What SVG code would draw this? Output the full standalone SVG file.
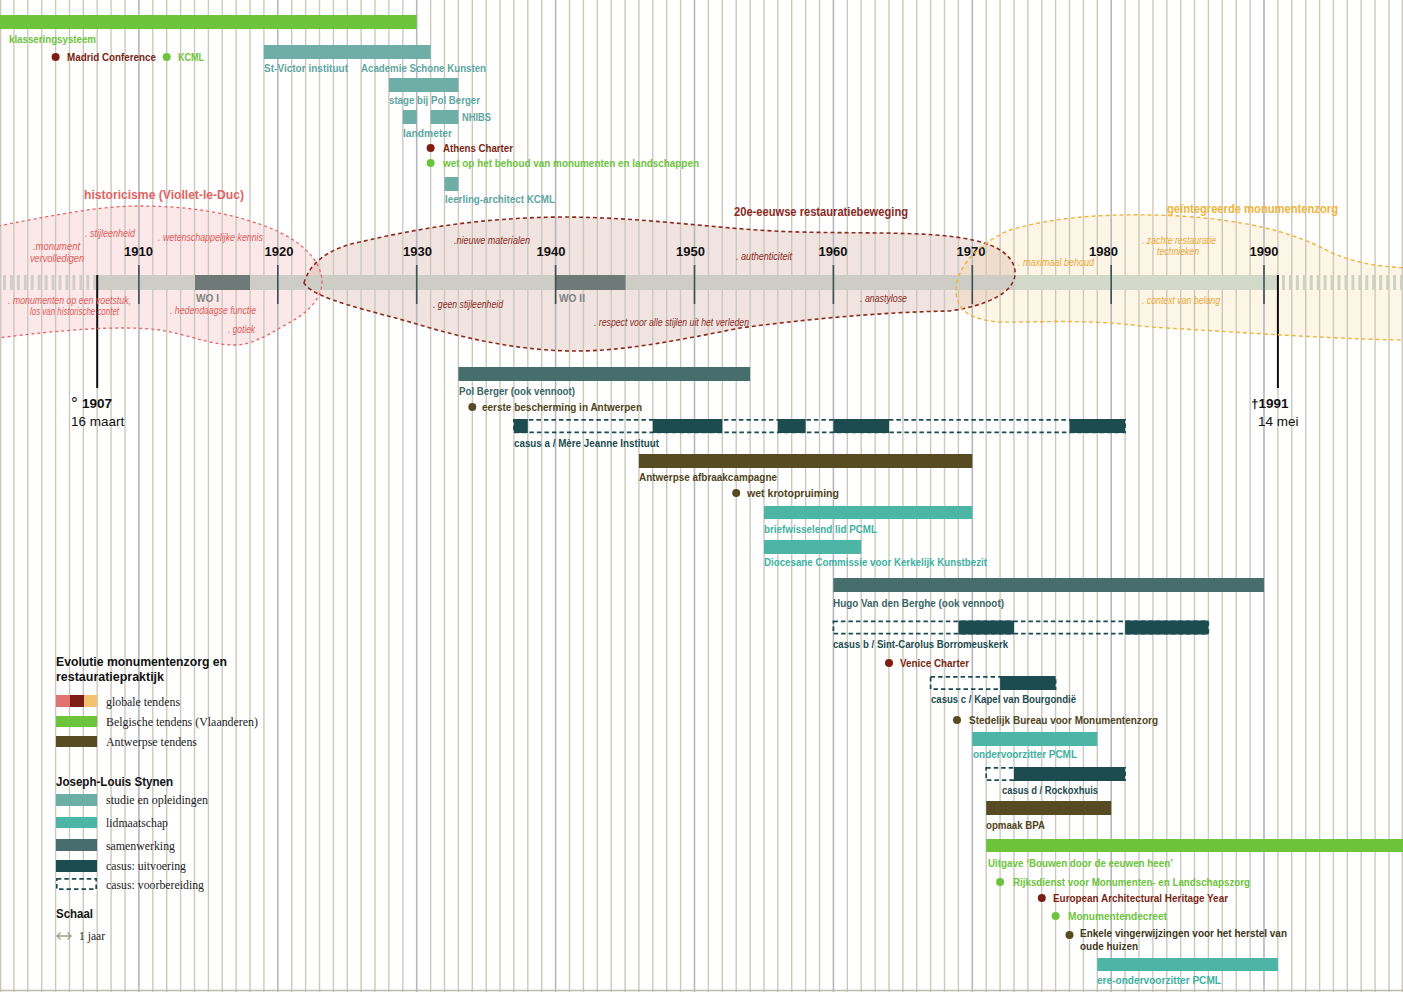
<svg xmlns="http://www.w3.org/2000/svg" width="1403" height="992" viewBox="0 0 1403 992">
<defs>
<style>
.g{stroke:#cbc9bd;stroke-width:1.4;fill:none}
.gd{stroke:#b6b7bd;stroke-width:1.6;fill:none}
.lb{font-family:"Liberation Sans",Arial,sans-serif;font-weight:bold;font-size:11px}
.an{font-family:"Liberation Sans",Arial,sans-serif;font-style:italic;font-size:10px}
.yr{font-family:"Liberation Sans",Arial,sans-serif;font-weight:bold;font-size:13px;text-anchor:middle;fill:#111}
.tt{font-family:"Liberation Sans",Arial,sans-serif;font-weight:bold;font-size:12.5px}
.lg{font-family:"Liberation Serif","Times New Roman",serif;font-size:12.5px;fill:#222}
.lh{font-family:"Liberation Sans",Arial,sans-serif;font-weight:bold;font-size:12.5px;fill:#111}
.green{fill:#6cc43c}
.red{fill:#7c1f12}
.olive{fill:#574b23}
.olivet{fill:#4f4420}
.stud{fill:#6fada7}
.studt{fill:#5ea69f}
.lid{fill:#4db5a6}
.lidt{fill:#3db2a2}
.sam{fill:#466e6d}
.samt{fill:#3b6667}
.cas{fill:#1d4c50}
.dash{fill:none;stroke:#1d4c50;stroke-width:1.7;stroke-dasharray:4.5 3}
.pk{fill:#e05a5a}
.dr{fill:#8b2a1e}
.or{fill:#eaa83a}
.tick{stroke:#3d5056;stroke-width:1.6}
</style>
</defs>
<rect width="1403" height="992" fill="#ffffff"/>

<g id="blob-fills">
<path d="M-2,226 C60,214 100,206 140,206 C185,206 230,212 270,228 C300,240 322,260 322,282 C322,300 305,315 285,325 C265,337 250,345 235,345 C210,345 190,335 160,330 C120,325 60,330 -2,338 Z" fill="#f07878" fill-opacity="0.17"/>
<path d="M304,283 C310,262 330,248 360,242 C420,228 480,218 560,217 C650,217 720,230 800,232 C880,234 950,230 990,245 C1010,253 1016,265 1015,275 C1013,292 990,305 950,311 C880,312 800,320 740,328 C680,340 620,352 570,351 C520,350 470,340 420,325 C370,310 315,300 304,283 Z" fill="#a0402e" fill-opacity="0.15"/>
<path d="M956,292 C955,270 975,245 1010,230 C1060,215 1120,213 1180,216 C1240,220 1290,230 1330,252 C1360,265 1385,267 1410,268 L1410,340 C1350,340 1250,333 1150,327 C1080,318 1040,323 1000,322 C970,320 957,310 956,292 Z" fill="#f5c060" fill-opacity="0.16"/>
</g>

<g id="grid">
<path class="g" d="M0.7,0V992M13.9,0V992M27.8,0V992M41.7,0V992M55.6,0V992M69.5,0V992M83.3,0V992M97.2,0V992M111.1,0V992M125,0V992M152.8,0V992M166.7,0V992M180.6,0V992M194.5,0V992M208.4,0V992M222.2,0V992M236.1,0V992M250,0V992M263.9,0V992M291.7,0V992M305.6,0V992M319.5,0V992M333.4,0V992M347.3,0V992M361.1,0V992M375,0V992M388.9,0V992M402.8,0V992M430.6,0V992M444.5,0V992M458.4,0V992M472.3,0V992M486.2,0V992M500,0V992M513.9,0V992M527.8,0V992M541.7,0V992M569.5,0V992M583.4,0V992M597.3,0V992M611.2,0V992M625.1,0V992M638.9,0V992M652.8,0V992M666.7,0V992M680.6,0V992M708.4,0V992M722.3,0V992M736.2,0V992M750.1,0V992M764,0V992M777.8,0V992M791.7,0V992M805.6,0V992M819.5,0V992M847.3,0V992M861.2,0V992M875.1,0V992M889,0V992M902.9,0V992M916.7,0V992M930.6,0V992M944.5,0V992M958.4,0V992M986.2,0V992M1000.1,0V992M1014,0V992M1027.9,0V992M1041.8,0V992M1055.6,0V992M1069.5,0V992M1083.4,0V992M1097.3,0V992M1125.1,0V992M1139,0V992M1152.9,0V992M1166.8,0V992M1180.7,0V992M1194.5,0V992M1208.4,0V992M1222.3,0V992M1236.2,0V992M1250.1,0V992M1277.9,0V992M1291.8,0V992M1305.7,0V992M1319.6,0V992M1333.4,0V992M1347.3,0V992M1361.2,0V992M1375.1,0V992M1389,0V992M1402.3,0V992"/>
<path class="gd" d="M138.9,0V992M277.8,0V992M416.7,0V992M555.6,0V992M694.5,0V992M833.4,0V992M972.3,0V992M1111.2,0V992M1264,0V992"/>
<path d="M0,990.5H1403" stroke="#bdbbae" stroke-width="1.6"/>
</g>

<g id="timeline">
<line x1="3" y1="282.5" x2="97" y2="282.5" stroke="#cfcfc8" stroke-width="15" stroke-dasharray="3 3.94"/>
<rect x="97" y="275" width="918" height="15" fill="#cdcdc6"/>
<rect x="1015" y="275" width="263" height="15" fill="#d3d9c9"/>
<line x1="1282" y1="282.5" x2="1403" y2="282.5" stroke="#cdd3c3" stroke-width="15" stroke-dasharray="3 3.94"/>
<rect x="195" y="275" width="55" height="15" fill="#6f7977"/>
<rect x="555.6" y="275" width="70" height="15" fill="#6f7977"/>
<path class="tick" d="M138.9,265V304M277.8,265V304M416.7,265V304M555.6,265V304M694.5,265V304M833.4,265V304M972.3,265V304M1111.2,265V304M1264,265V304"/>
<text class="lb" x="196" y="302" fill="#7b8482" font-size="10px" textLength="23" lengthAdjust="spacingAndGlyphs">WO I</text>
<text class="lb" x="559" y="302" fill="#7b8482" font-size="10px" textLength="26" lengthAdjust="spacingAndGlyphs">WO II</text>
<text class="yr" x="138.5" y="256">1910</text>
<text class="yr" x="279" y="256">1920</text>
<text class="yr" x="417.5" y="256">1930</text>
<text class="yr" x="551" y="256">1940</text>
<text class="yr" x="690.5" y="256">1950</text>
<text class="yr" x="833" y="256">1960</text>
<text class="yr" x="971" y="256">1970</text>
<text class="yr" x="1103.5" y="256">1980</text>
<text class="yr" x="1264" y="256">1990</text>
<line x1="97.2" y1="275" x2="97.2" y2="388" stroke="#111" stroke-width="2"/>
<line x1="1277.9" y1="275" x2="1277.9" y2="388" stroke="#111" stroke-width="2"/>
<text x="71" y="409" font-family="Liberation Sans,Arial,sans-serif" font-size="17" fill="#111">°</text>
<text x="82" y="408" font-family="Liberation Sans,Arial,sans-serif" font-size="13.5" font-weight="bold" fill="#111">1907</text>
<text x="71" y="426" font-family="Liberation Sans,Arial,sans-serif" font-size="13.5" fill="#111">16 maart</text>
<text x="1251" y="408" font-family="Liberation Sans,Arial,sans-serif" font-size="13.5" font-weight="bold" fill="#111">†1991</text>
<text x="1258" y="426" font-family="Liberation Sans,Arial,sans-serif" font-size="13.5" fill="#111">14 mei</text>
</g>

<g id="blob-strokes" fill="none">
<path d="M-2,226 C60,214 100,206 140,206 C185,206 230,212 270,228 C300,240 322,260 322,282 C322,300 305,315 285,325 C265,337 250,345 235,345 C210,345 190,335 160,330 C120,325 60,330 -2,338" stroke="#e86262" stroke-width="1.3" stroke-dasharray="3 3"/>
<path d="M304,283 C310,262 330,248 360,242 C420,228 480,218 560,217 C650,217 720,230 800,232 C880,234 950,230 990,245 C1010,253 1016,265 1015,275 C1013,292 990,305 950,311 C880,312 800,320 740,328 C680,340 620,352 570,351 C520,350 470,340 420,325 C370,310 315,300 304,283 Z" stroke="#8b2a1e" stroke-width="1.6" stroke-dasharray="4 3"/>
<path d="M1410,268 C1385,267 1360,265 1330,252 C1290,230 1240,220 1180,216 C1120,213 1060,215 1010,230 C975,245 955,270 956,292 C957,310 970,320 1000,322 C1040,323 1080,318 1150,327 C1250,333 1350,340 1410,340" stroke="#f0b43c" stroke-width="1.4" stroke-dasharray="4 3"/>
</g>

<g id="tendens-global">
<text class="tt" x="84" y="199" fill="#e26464" textLength="160" lengthAdjust="spacingAndGlyphs">historicisme (Viollet-le-Duc)</text>
<text class="an pk" x="33" y="250" textLength="47" lengthAdjust="spacingAndGlyphs">.monument</text>
<text class="an pk" x="30" y="262" textLength="54" lengthAdjust="spacingAndGlyphs">vervolledigen</text>
<text class="an pk" x="85" y="237" textLength="50" lengthAdjust="spacingAndGlyphs">. stijleenheid</text>
<text class="an pk" x="158" y="241" textLength="105" lengthAdjust="spacingAndGlyphs">. wetenschappelijke kennis</text>
<text class="an pk" x="8" y="304" textLength="123" lengthAdjust="spacingAndGlyphs">. monumenten op een voetstuk,</text>
<text class="an pk" x="30" y="315" textLength="89" lengthAdjust="spacingAndGlyphs">los van historische contet</text>
<text class="an pk" x="170" y="314" textLength="86" lengthAdjust="spacingAndGlyphs">. hedendaagse functie</text>
<text class="an pk" x="228" y="333" textLength="27" lengthAdjust="spacingAndGlyphs">. gotiek</text>

<text class="tt" x="734" y="216" fill="#8b2a1e" textLength="174" lengthAdjust="spacingAndGlyphs">20e-eeuwse restauratiebeweging</text>
<text class="an dr" x="454" y="244" textLength="76" lengthAdjust="spacingAndGlyphs">.nieuwe materialen</text>
<text class="an dr" x="736" y="260" textLength="56" lengthAdjust="spacingAndGlyphs">. authenticiteit</text>
<text class="an dr" x="433" y="308" textLength="70" lengthAdjust="spacingAndGlyphs">. geen stijleenheid</text>
<text class="an dr" x="594" y="326" textLength="155" lengthAdjust="spacingAndGlyphs">. respect voor alle stijlen uit het verleden</text>
<text class="an dr" x="860" y="302" textLength="47" lengthAdjust="spacingAndGlyphs">. anastylose</text>

<text class="tt" x="1167" y="213" fill="#f0b43c" textLength="171" lengthAdjust="spacingAndGlyphs">geïntegreerde monumentenzorg</text>
<text class="an or" x="1018" y="266" textLength="76" lengthAdjust="spacingAndGlyphs">. maximaal behoud</text>
<text class="an or" x="1142" y="244" textLength="74" lengthAdjust="spacingAndGlyphs">. zachte restauratie</text>
<text class="an or" x="1157" y="255" textLength="42" lengthAdjust="spacingAndGlyphs">technieken</text>
<text class="an or" x="1142" y="304" textLength="78" lengthAdjust="spacingAndGlyphs">. context van belang</text>
</g>

<g id="klasseringsysteem">
<rect class="green" x="0" y="15" width="416.7" height="14"/>
<text class="lb green" x="9" y="42.5" textLength="87" lengthAdjust="spacingAndGlyphs">klasseringsysteem</text>
</g>
<g id="madrid">
<circle class="red" cx="55.6" cy="57" r="4"/>
<text class="lb red" x="67" y="60.5" textLength="89" lengthAdjust="spacingAndGlyphs">Madrid Conference</text>
</g>
<g id="kcml">
<circle class="green" cx="166.7" cy="57" r="4"/>
<text class="lb green" x="178" y="60.5" textLength="26" lengthAdjust="spacingAndGlyphs">KCML</text>
</g>
<g id="studie-stvictor">
<rect class="stud" x="263.9" y="45" width="166.7" height="14"/>
<text class="lb studt" x="264" y="71.5" textLength="84" lengthAdjust="spacingAndGlyphs">St-Victor instituut</text>
<text class="lb studt" x="361" y="71.5" textLength="125" lengthAdjust="spacingAndGlyphs">Academie Schone Kunsten</text>
</g>
<g id="stage">
<rect class="stud" x="388.9" y="78" width="69.5" height="14"/>
<text class="lb studt" x="389" y="103.5" textLength="91" lengthAdjust="spacingAndGlyphs">stage bij Pol Berger</text>
</g>
<g id="landmeter">
<rect class="stud" x="402.8" y="110" width="13.9" height="14"/>
<text class="lb studt" x="403" y="136.5" textLength="49" lengthAdjust="spacingAndGlyphs">landmeter</text>
</g>
<g id="nhibs">
<rect class="stud" x="430.6" y="110" width="27.8" height="14"/>
<text class="lb studt" x="462" y="121" textLength="29" lengthAdjust="spacingAndGlyphs">NHIBS</text>
</g>
<g id="athens">
<circle class="red" cx="430.6" cy="148" r="4"/>
<text class="lb red" x="443" y="151.5" textLength="70" lengthAdjust="spacingAndGlyphs">Athens Charter</text>
</g>
<g id="wet-behoud">
<circle class="green" cx="430.6" cy="163" r="4"/>
<text class="lb green" x="443" y="166.5" textLength="256" lengthAdjust="spacingAndGlyphs">wet op het behoud van monumenten en landschappen</text>
</g>
<g id="leerling">
<rect class="stud" x="444.5" y="177" width="13.9" height="14"/>
<text class="lb studt" x="445" y="202.5" textLength="110" lengthAdjust="spacingAndGlyphs">leerling-architect KCML</text>
</g>

<g id="polberger">
<rect class="sam" x="458.4" y="367" width="291.7" height="14"/>
<text class="lb samt" x="459" y="394.5" textLength="116" lengthAdjust="spacingAndGlyphs">Pol Berger (ook vennoot)</text>
</g>
<g id="eerste-bescherming">
<circle class="olive" cx="472.3" cy="407" r="4"/>
<text class="lb olivet" x="482" y="410.5" textLength="160" lengthAdjust="spacingAndGlyphs">eerste bescherming in Antwerpen</text>
</g>
<g id="casus-a">
<rect class="dash" x="513.9" y="419.8" width="611.2" height="12.6"/>
<rect class="cas" x="513.9" y="419" width="13.9" height="14"/>
<rect class="cas" x="652.8" y="419" width="69.5" height="14"/>
<rect class="cas" x="777.8" y="419" width="27.8" height="14"/>
<rect class="cas" x="833.4" y="419" width="55.6" height="14"/>
<rect class="cas" x="1069.5" y="419" width="55.6" height="14"/>
<text class="lb cas" x="514" y="446.5" textLength="145" lengthAdjust="spacingAndGlyphs">casus a / Mère Jeanne Instituut</text>
</g>
<g id="afbraakcampagne">
<rect class="olive" x="638.9" y="454" width="333.4" height="14"/>
<text class="lb olivet" x="639" y="480.5" textLength="138" lengthAdjust="spacingAndGlyphs">Antwerpse afbraakcampagne</text>
</g>
<g id="krotopruiming">
<circle class="olive" cx="736.2" cy="493" r="4"/>
<text class="lb olivet" x="747" y="496.5" textLength="92" lengthAdjust="spacingAndGlyphs">wet  krotopruiming</text>
</g>
<g id="briefwisselend">
<rect class="lid" x="764" y="506" width="208.3" height="13"/>
<text class="lb lidt" x="764" y="532.5" textLength="113" lengthAdjust="spacingAndGlyphs">briefwisselend lid PCML</text>
</g>
<g id="diocesane">
<rect class="lid" x="764" y="540" width="97.2" height="14"/>
<text class="lb lidt" x="764" y="565.5" textLength="223" lengthAdjust="spacingAndGlyphs">Diocesane Commissie voor Kerkelijk Kunstbezit</text>
</g>
<g id="hugo">
<rect class="sam" x="833.4" y="578" width="430.6" height="14"/>
<text class="lb samt" x="833" y="606.5" textLength="171" lengthAdjust="spacingAndGlyphs">Hugo Van den Berghe (ook vennoot)</text>
</g>
<g id="casus-b">
<rect class="dash" x="833.4" y="621.3" width="374.9" height="12.4"/>
<rect class="cas" x="958.4" y="620.5" width="55.6" height="14"/>
<rect class="cas" x="1125.1" y="620.5" width="83.3" height="14"/>
<text class="lb cas" x="833" y="647.5" textLength="175" lengthAdjust="spacingAndGlyphs">casus b / Sint-Carolus Borromeuskerk</text>
</g>
<g id="venice">
<circle class="red" cx="889" cy="663" r="4"/>
<text class="lb red" x="900" y="666.5" textLength="69" lengthAdjust="spacingAndGlyphs">Venice Charter</text>
</g>
<g id="casus-c">
<rect class="dash" x="930.6" y="676.8" width="125" height="12.4"/>
<rect class="cas" x="1000.1" y="676" width="55.5" height="14"/>
<text class="lb cas" x="931" y="702.5" textLength="145" lengthAdjust="spacingAndGlyphs">casus c / Kapel van Bourgondië</text>
</g>
<g id="stedelijk">
<circle class="olive" cx="957" cy="720" r="4"/>
<text class="lb olivet" x="969" y="723.5" textLength="189" lengthAdjust="spacingAndGlyphs">Stedelijk Bureau voor Monumentenzorg</text>
</g>
<g id="ondervoorzitter">
<rect class="lid" x="972.3" y="732" width="125" height="14"/>
<text class="lb lidt" x="973" y="757.5" textLength="104" lengthAdjust="spacingAndGlyphs">ondervoorzitter PCML</text>
</g>
<g id="casus-d">
<rect class="dash" x="986.2" y="767.8" width="138.9" height="12.4"/>
<rect class="cas" x="1014" y="767" width="111.1" height="14"/>
<text class="lb cas" x="1002" y="793.5" textLength="96" lengthAdjust="spacingAndGlyphs">casus d / Rockoxhuis</text>
</g>
<g id="bpa">
<rect class="olive" x="986.2" y="801" width="125" height="14"/>
<text class="lb olivet" x="986" y="828.5" textLength="59" lengthAdjust="spacingAndGlyphs">opmaak BPA</text>
</g>
<g id="uitgave">
<rect class="green" x="986.2" y="839" width="417" height="13"/>
<text class="lb green" x="988" y="866.5" textLength="185" lengthAdjust="spacingAndGlyphs">Uitgave ‘Bouwen door de eeuwen heen’</text>
</g>
<g id="rijksdienst">
<circle class="green" cx="1000.1" cy="882" r="4"/>
<text class="lb green" x="1013" y="885.5" textLength="237" lengthAdjust="spacingAndGlyphs">Rijksdienst voor Monumenten- en Landschapszorg</text>
</g>
<g id="eahy">
<circle class="red" cx="1041.8" cy="898" r="4"/>
<text class="lb red" x="1053" y="901.5" textLength="175" lengthAdjust="spacingAndGlyphs">European Architectural Heritage Year</text>
</g>
<g id="monumentendecreet">
<circle class="green" cx="1055.6" cy="916" r="4"/>
<text class="lb green" x="1068" y="919.5" textLength="99" lengthAdjust="spacingAndGlyphs">Monumentendecreet</text>
</g>
<g id="vingerwijzingen">
<circle class="olive" cx="1069.5" cy="935" r="4"/>
<text class="lb" x="1080" y="936.5" fill="#3f3720" textLength="207" lengthAdjust="spacingAndGlyphs">Enkele vingerwijzingen voor het herstel van</text>
<text class="lb" x="1080" y="949.5" fill="#3f3720" textLength="58" lengthAdjust="spacingAndGlyphs">oude huizen</text>
</g>
<g id="ere-ondervoorzitter">
<rect class="lid" x="1097.3" y="958" width="180.6" height="13"/>
<text class="lb lidt" x="1097" y="983.5" textLength="124" lengthAdjust="spacingAndGlyphs">ere-ondervoorzitter PCML</text>
</g>

<g id="legend">
<text class="lh" x="56" y="666" textLength="171" lengthAdjust="spacingAndGlyphs">Evolutie monumentenzorg en</text>
<text class="lh" x="56" y="681" textLength="108" lengthAdjust="spacingAndGlyphs">restauratiepraktijk</text>
<rect x="56" y="695" width="14" height="12" fill="#e07272"/>
<rect x="70" y="695" width="14" height="12" fill="#7c1f12"/>
<rect x="84" y="695" width="13" height="12" fill="#f3c06f"/>
<text class="lg" x="106" y="706" textLength="74" lengthAdjust="spacingAndGlyphs">globale tendens</text>
<rect class="green" x="56" y="716" width="41" height="11"/>
<text class="lg" x="106" y="726" textLength="152" lengthAdjust="spacingAndGlyphs">Belgische tendens (Vlaanderen)</text>
<rect class="olive" x="56" y="736" width="41" height="11"/>
<text class="lg" x="106" y="746" textLength="91" lengthAdjust="spacingAndGlyphs">Antwerpse tendens</text>
<text class="lh" x="56" y="786" textLength="117" lengthAdjust="spacingAndGlyphs">Joseph-Louis Stynen</text>
<rect class="stud" x="56" y="794" width="41" height="12"/>
<text class="lg" x="106" y="804" textLength="102" lengthAdjust="spacingAndGlyphs">studie en opleidingen</text>
<rect class="lid" x="56" y="817" width="41" height="11"/>
<text class="lg" x="106" y="827" textLength="62" lengthAdjust="spacingAndGlyphs">lidmaatschap</text>
<rect class="sam" x="56" y="839" width="41" height="12"/>
<text class="lg" x="106" y="850" textLength="69" lengthAdjust="spacingAndGlyphs">samenwerking</text>
<rect class="cas" x="56" y="860" width="41" height="12"/>
<text class="lg" x="106" y="870" textLength="80" lengthAdjust="spacingAndGlyphs">casus: uitvoering</text>
<rect class="dash" x="56.8" y="878.8" width="39.4" height="10.4"/>
<text class="lg" x="106" y="889" textLength="98" lengthAdjust="spacingAndGlyphs">casus: voorbereiding</text>
<text class="lh" x="56" y="918" textLength="37" lengthAdjust="spacingAndGlyphs">Schaal</text>
<path d="M57,936H71M60.5,932.5L57,936L60.5,939.5M67.5,932.5L71,936L67.5,939.5" fill="none" stroke="#a29c88" stroke-width="1.3"/>
<text class="lg" x="79" y="940" textLength="26" lengthAdjust="spacingAndGlyphs">1 jaar</text>
</g>
</svg>
